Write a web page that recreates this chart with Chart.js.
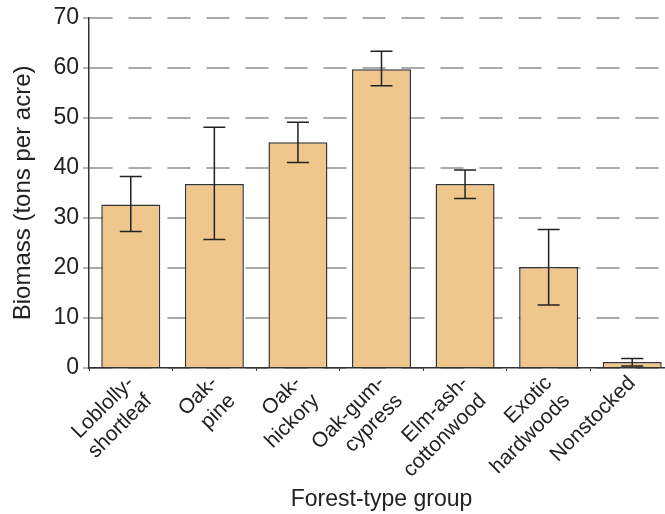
<!DOCTYPE html>
<html>
<head>
<meta charset="utf-8">
<script src="https://cdn.jsdelivr.net/npm/chart.js@4"></script>
<style>
  html, body { margin: 0; padding: 0; background: #fff; overflow: hidden; }
  #wrap { width: 680px; height: 514px; }
</style>
</head>
<body>
<div id="wrap"><canvas id="biomassChart"></canvas></div>
<script>
const forestTypes = [
    ['Loblolly-', 'shortleaf'],
    ['Oak-', 'pine'],
    ['Oak-', 'hickory'],
    ['Oak-gum-', 'cypress'],
    ['Elm-ash-', 'cottonwood'],
    ['Exotic', 'hardwoods'],
    'Nonstocked'
];
const biomass = [32.7, 36.8, 45.1, 59.7, 36.8, 20.2, 1.2];
const errLow = [27.3, 25.7, 41.1, 56.4, 33.9, 12.6, 0.4];
const errHigh = [38.3, 48.1, 49.1, 63.3, 39.6, 27.7, 1.9];
const yTicks = [0, 10, 20, 30, 40, 50, 60, 70];

const fontFamily = '"Liberation Sans", Arial, Helvetica, sans-serif';

// draws the whiskers on top of the bars
const errorBars = {
    id: 'errorBars',
    afterDatasetsDraw(chart) {
        const ctx = chart.ctx;
        const yScale = chart.scales.y;
        const meta = chart.getDatasetMeta(0);
        ctx.save();
        ctx.strokeStyle = '#222';
        ctx.lineWidth = 1.5;
        meta.data.forEach((bar, i) => {
            const top = yScale.getPixelForValue(errHigh[i]);
            const bottom = yScale.getPixelForValue(errLow[i]);
            const half = 11;
            ctx.beginPath();
            ctx.moveTo(bar.x, top);
            ctx.lineTo(bar.x, bottom);
            ctx.moveTo(bar.x - half, top);
            ctx.lineTo(bar.x + half, top);
            ctx.moveTo(bar.x - half, bottom);
            ctx.lineTo(bar.x + half, bottom);
            ctx.stroke();
        });
        ctx.restore();
    }
};

const ctx = document.getElementById('biomassChart').getContext('2d');
new Chart(ctx, {
    type: 'bar',
    data: {
        labels: forestTypes,
        datasets: [{
            data: biomass,
            backgroundColor: '#EFC78C',
            borderColor: '#333',
            borderWidth: 1.5,
            categoryPercentage: 1,
            barPercentage: 0.706
        }]
    },
    options: {
        responsive: true,
        maintainAspectRatio: false,
        animation: false,
        layout: { padding: { top: 6, right: 6, left: 0, bottom: 0 } },
        plugins: {
            legend: { display: false },
            tooltip: { enabled: false }
        },
        scales: {
            y: {
                min: 0,
                max: 70,
                afterBuildTicks(scale) {
                    scale.ticks = yTicks.map(v => ({ value: v }));
                },
                afterFit(scale) { scale.width = 89; },
                ticks: {
                    color: '#222',
                    font: { family: fontFamily, size: 23 },
                    padding: 4
                },
                grid: {
                    color: '#aaa',
                    lineWidth: 2,
                    tickLength: 6,
                    tickColor: '#999',
                    tickWidth: 1.5,
                    tickBorderDash: [],
                    drawTicks: true
                },
                border: {
                    display: true,
                    color: '#333',
                    width: 1.5,
                    dash: [23, 16]
                },
                title: {
                    display: true,
                    text: 'Biomass (tons per acre)',
                    color: '#222',
                    font: { family: fontFamily, size: 24 },
                    padding: { top: 9, bottom: 0 }
                }
            },
            x: {
                afterFit(scale) { scale.height = 146; },
                ticks: {
                    color: '#222',
                    font: { family: fontFamily, size: 21, lineHeight: 1.2 },
                    maxRotation: 45,
                    minRotation: 45,
                    padding: 0
                },
                grid: {
                    drawOnChartArea: false,
                    drawTicks: true,
                    tickLength: 3,
                    tickColor: '#333',
                    tickWidth: 1
                },
                border: { color: '#333', width: 1.5 },
                title: {
                    display: true,
                    text: 'Forest-type group',
                    color: '#222',
                    font: { family: fontFamily, size: 23 },
                    padding: { top: 0, bottom: 1 }
                }
            }
        }
    },
    plugins: [errorBars]
});
</script>
</body>
</html>
